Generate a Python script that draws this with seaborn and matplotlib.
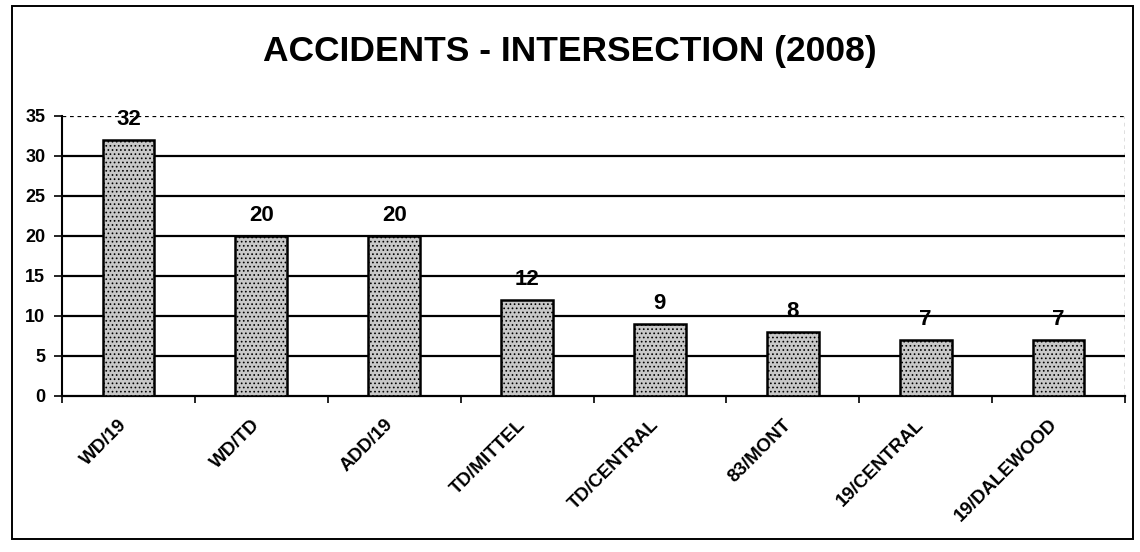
import matplotlib
matplotlib.use("Agg")
import matplotlib.pyplot as plt
import matplotlib.transforms as mtransforms
import seaborn as sns
import pandas as pd
from matplotlib.patches import Rectangle

categories = ["WD/19", "WD/TD", "ADD/19", "TD/MITTEL", "TD/CENTRAL", "83/MONT", "19/CENTRAL", "19/DALEWOOD"]
accidents = [32, 20, 20, 12, 9, 8, 7, 7]
yticks = [0, 5, 10, 15, 20, 25, 30, 35]
title = "ACCIDENTS - INTERSECTION (2008)"

sns.set_style("white")
plt.rcParams['font.family'] = ['Liberation Sans', 'DejaVu Sans']
plt.rcParams['text.color'] = 'black'
plt.rcParams['xtick.color'] = 'black'
plt.rcParams['ytick.color'] = 'black'
plt.rcParams['hatch.linewidth'] = 0.7

df = pd.DataFrame({"cat": categories, "val": accidents})

fig = plt.figure(figsize=(11.4, 5.52), dpi=100)
ax = fig.add_axes([62 / 1140, 1 - 396 / 552, (1125 - 62) / 1140, 280 / 552])

sns.barplot(data=df, x="cat", y="val", ax=ax, color="#c8c8c8", width=0.39,
            edgecolor="black", linewidth=1.8, saturation=1, zorder=3)
for p in ax.patches:
    p.set_hatch("....")
    p.set_zorder(3)

n = len(categories)
ax.set_ylim(0, 35)
ax.set_xlim(-0.5, n - 0.5)
ax.set_yticks(yticks)
ax.set_yticklabels([str(t) for t in yticks], fontsize=13, fontweight="bold")
ax.set_xticks([k - 0.5 for k in range(n + 1)])
ax.set_xticklabels([])
ax.set_xlabel("")
ax.set_ylabel("")

# category labels placed at category centres, shifted like the original
base = mtransforms.blended_transform_factory(ax.transData, ax.transAxes)
shift = mtransforms.ScaledTranslation(-10 / 100, -20 / 100, fig.dpi_scale_trans)
for i, name in enumerate(categories):
    ax.text(i, 0, name, transform=base + shift, rotation=45, ha="right",
            va="top", rotation_mode="anchor", fontsize=13.5, fontweight="bold",
            clip_on=False)

for y in yticks[1:-1]:
    ax.axhline(y, color="black", linewidth=1.6, zorder=1)
ax.axhline(35, color="black", linewidth=0.9, linestyle=(0, (3, 3)), zorder=1)
ax.axvline(n - 0.5, color="black", linewidth=0.9, linestyle=(0, (3, 3)), zorder=1)

for s in ["top", "right"]:
    ax.spines[s].set_visible(False)
ax.spines["left"].set_color("black")
ax.spines["left"].set_linewidth(1.5)
ax.spines["bottom"].set_color("black")
ax.spines["bottom"].set_linewidth(1.6)
ax.tick_params(axis="y", which="major", length=6, width=1.2, direction="out",
               left=True, pad=6)
ax.tick_params(axis="x", which="major", length=5, width=1.2, direction="out",
               bottom=True)

for i, v in enumerate(accidents):
    ax.text(i, v + 2.6, str(v), ha="center", va="center", fontsize=16,
            fontweight="bold", zorder=4)

fig.text(0.5, 1 - 52 / 552, title, ha="center", va="center", fontsize=25.5,
         fontweight="bold")

fig.patches.append(Rectangle((12 / 1140, 1 - 539 / 552), (1133 - 12) / 1140,
                             (539 - 6) / 552, transform=fig.transFigure,
                             fill=False, edgecolor="black", linewidth=1.4))

fig.savefig("out.png", dpi=100, facecolor="white")
